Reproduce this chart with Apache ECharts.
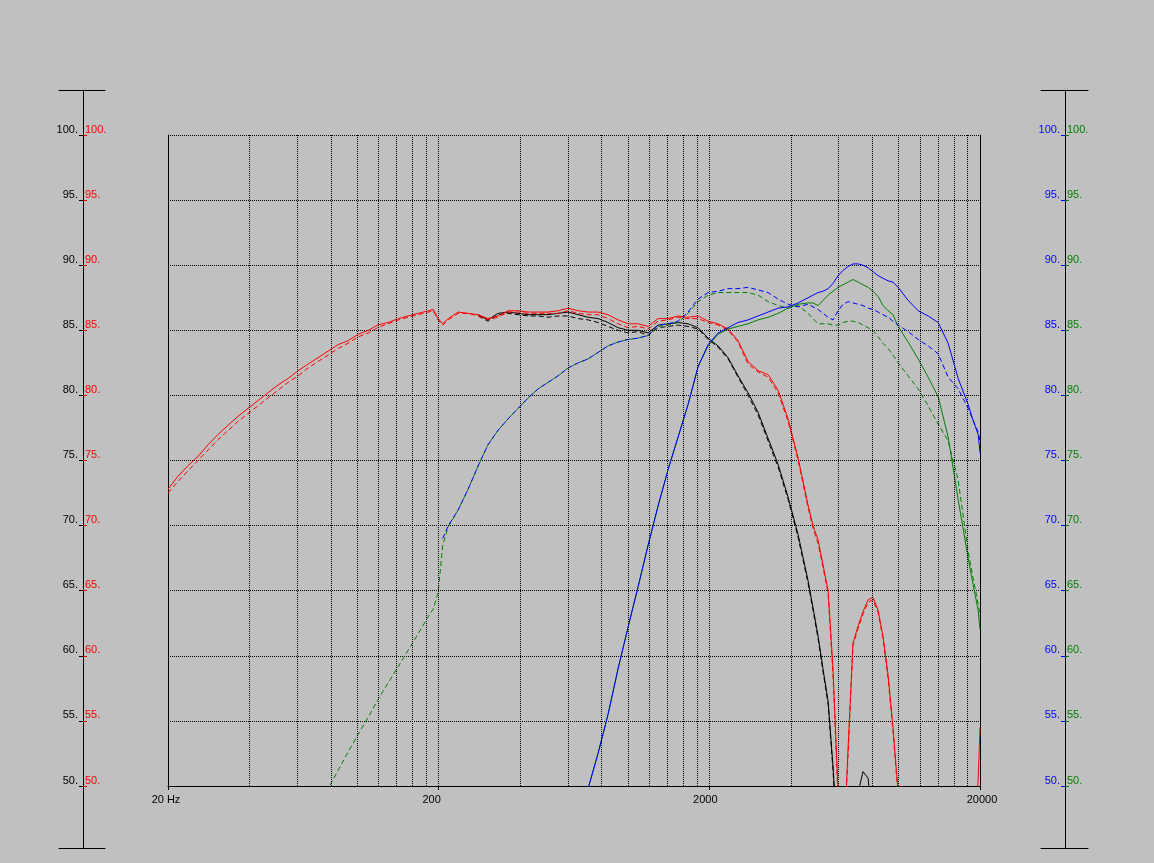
<!DOCTYPE html>
<html><head><meta charset="utf-8">
<script src="https://cdn.jsdelivr.net/npm/echarts@6/dist/echarts.min.js"></script>
<style>html,body{margin:0;padding:0;background:#c0c0c0;}#c{width:1154px;height:863px;}</style>
</head><body><div id="c"></div>
<script>
// ---- axis / tick values ----
const xTickValues = [20, 200, 2000, 20000];
const xTickLabels = ['20 Hz', '200', '2000', '20000'];
const xGridValues = [40,60,80,100,120,140,160,180,200,400,600,800,1000,1200,1400,1600,1800,2000,4000,6000,8000,10000,12000,14000,16000,18000];
const yTickValues = [50,55,60,65,70,75,80,85,90,95,100];
const Y_MIN = 50, Y_MAX = 100;

// ---- series data: [frequency Hz, dB] ----
const redSolid = [[20,72.8],[21.8,73.8],[23.7,74.6],[25.8,75.3],[28.1,76.2],[30.6,77.0],[33.3,77.7],[36.3,78.4],[39.5,79.0],[43.0,79.6],[46.8,80.2],[51.0,80.8],[55.5,81.3],[60.5,81.9],[65.8,82.4],[71.7,82.9],[78.1,83.4],[85.0,83.9],[92.5,84.2],[101,84.7],[110,85.0],[119,85.4],[130,85.6],[142,85.9],[154,86.1],[168,86.3],[183,86.5],[191,86.6],[199,85.9],[207,85.5],[217,85.9],[236,86.4],[257,86.3],[280,86.2],[304,85.9],[331,86.1],[361,86.5],[393,86.5],[428,86.4],[466,86.4],[507,86.4],[552,86.5],[601,86.7],[655,86.5],[713,86.4],[776,86.4],[845,86.2],[920,85.8],[1002,85.5],[1091,85.5],[1188,85.3],[1293,85.9],[1408,85.9],[1533,86.1],[1669,86.0],[1817,86.1],[1979,85.7],[2155,85.5],[2346,85.1],[2554,84.2],[2781,82.6],[3028,81.9],[3297,81.6],[3590,80.4],[3909,78.2],[4256,75.2],[4630,71.6],[4832,70.0],[5046,68.9],[5260,67.0],[5494,65.0],[5727,59.0],[5982,49.5],[6236,44.0],[6514,53.0],[6790,61.0],[7092,62.3],[7392,63.4],[7722,64.3],[8049,64.5],[8408,63.5],[8764,61.5],[9155,58.5],[9542,54.5],[9968,49.5],[10853,42],[11817,38],[12867,36],[14010,35],[15254,35],[16609,36],[18084,39],[18844,44],[19691,50.5],[20000,54.5]];
const redDashed = [[20,72.5],[21.8,73.4],[23.7,74.2],[25.8,75.0],[28.1,75.8],[30.6,76.6],[33.3,77.3],[36.3,78.0],[39.5,78.6],[43.0,79.2],[46.8,79.8],[51.0,80.4],[55.5,81.0],[60.5,81.5],[65.8,82.1],[71.7,82.6],[78.1,83.1],[85.0,83.6],[92.5,84.0],[101,84.5],[110,84.8],[119,85.2],[130,85.5],[142,85.8],[154,86.0],[168,86.2],[183,86.4],[191,86.5],[199,85.8],[207,85.4],[217,85.8],[236,86.3],[257,86.3],[280,86.1],[304,85.8],[331,86.0],[361,86.4],[393,86.4],[428,86.3],[466,86.3],[507,86.3],[552,86.3],[601,86.5],[655,86.3],[713,86.2],[776,86.2],[845,85.9],[920,85.5],[1002,85.2],[1091,85.3],[1188,85.1],[1293,85.7],[1408,85.8],[1533,86.0],[1669,85.9],[1817,85.9],[1979,85.6],[2155,85.4],[2346,85.0],[2554,84.1],[2781,82.4],[3028,81.8],[3297,81.4],[3590,80.2],[3909,78.0],[4256,75.0],[4630,71.4],[4832,69.8],[5046,68.6],[5260,66.8],[5494,64.8],[5727,58.5],[5982,49.0],[6236,44.0],[6514,52.5],[6790,60.8],[7092,62.1],[7392,63.2],[7722,64.1],[8049,64.3],[8408,63.3],[8764,61.3],[9155,58.2],[9542,54.2],[9968,49.2],[10853,42]];
const blackSolid = [[280,86.2],[304,85.8],[331,86.3],[361,86.4],[393,86.3],[428,86.2],[466,86.2],[507,86.2],[552,86.3],[601,86.4],[655,86.2],[713,86.0],[776,85.9],[845,85.6],[920,85.2],[1002,85.0],[1091,85.0],[1188,84.8],[1293,85.4],[1408,85.5],[1533,85.6],[1669,85.5],[1817,85.2],[1979,84.4],[2155,83.8],[2346,82.9],[2554,81.5],[2781,80.2],[3028,78.7],[3297,76.7],[3590,74.7],[3909,72.2],[4256,69.3],[4630,65.8],[4832,63.7],[5046,61.5],[5260,59.0],[5494,56.5],[5727,51.5],[5982,45],[6236,40],[6514,38],[6790,44],[7092,49.5],[7392,51.1],[7722,50.6],[8049,46],[8408,40]];
const blackDashed = [[280,86.1],[304,85.7],[331,86.2],[361,86.3],[393,86.2],[428,86.1],[466,86.1],[507,86.0],[552,86.1],[601,86.1],[655,85.9],[713,85.8],[776,85.6],[845,85.3],[920,85.0],[1002,84.8],[1091,84.9],[1188,84.6],[1293,85.2],[1408,85.3],[1533,85.4],[1669,85.3],[1817,85.1],[1979,84.3],[2155,83.7],[2346,82.8],[2554,81.4],[2781,80.0],[3028,78.5],[3297,76.5],[3590,74.5],[3909,72.0],[4256,69.1],[4630,65.6],[4832,63.5],[5046,61.3],[5260,58.8],[5494,56.3],[5727,51.2],[5982,44.5],[6236,40]];
const blueSolid = [[713,49.8],[776,52.5],[845,55.5],[920,59.0],[1002,62.2],[1091,65.3],[1188,68.5],[1293,71.5],[1408,74.3],[1533,76.8],[1669,79.3],[1817,82.2],[1979,83.9],[2155,84.8],[2346,85.2],[2554,85.6],[2781,85.8],[3028,86.1],[3297,86.4],[3590,86.7],[3909,86.8],[4256,87.1],[4630,87.5],[4832,87.7],[5046,87.9],[5260,88.0],[5494,88.2],[5727,88.6],[5982,89.2],[6236,89.6],[6514,89.9],[6790,90.1],[7092,90.1],[7392,90.0],[7722,89.8],[8049,89.5],[8408,89.2],[8764,89.0],[9155,88.8],[9542,88.7],[9968,88.3],[10853,87.3],[11817,86.5],[12867,86.1],[14010,85.6],[15254,84.0],[16609,81.3],[18084,79.3],[18844,78.1],[19691,77.0],[20000,75.6]];
const greenSolid = [[713,49.8],[776,52.5],[845,55.5],[920,59.0],[1002,62.2],[1091,65.3],[1188,68.5],[1293,71.5],[1408,74.3],[1533,76.8],[1669,79.3],[1817,82.2],[1979,83.8],[2155,84.7],[2346,85.1],[2554,85.3],[2781,85.5],[3028,85.8],[3297,86.0],[3590,86.3],[3909,86.7],[4256,87.0],[4630,87.1],[4832,87.1],[5046,86.9],[5260,87.3],[5494,87.7],[5727,88.0],[5982,88.3],[6236,88.5],[6514,88.7],[6790,88.9],[7092,88.7],[7392,88.5],[7722,88.3],[8049,88.0],[8408,87.6],[8764,86.9],[9155,86.5],[9542,86.2],[9968,85.3],[10853,84.1],[11817,82.8],[12867,81.4],[14010,79.9],[15254,76.8],[16609,72.0],[18084,67.5],[18844,65.5],[19691,63.5],[20000,62.0]];
const blueDashed = [[207,69.0],[217,70.0],[236,71.2],[257,72.8],[280,74.6],[304,76.2],[331,77.3],[361,78.2],[393,79.0],[428,79.8],[466,80.5],[507,81.0],[552,81.5],[601,82.1],[655,82.5],[713,82.8],[776,83.3],[845,83.8],[920,84.1],[1002,84.3],[1091,84.4],[1188,84.6],[1293,85.4],[1408,85.5],[1533,85.7],[1669,86.4],[1817,87.4],[1979,87.9],[2155,88.0],[2346,88.2],[2554,88.2],[2781,88.3],[3028,88.1],[3297,87.9],[3590,87.4],[3909,87.0],[4256,86.8],[4630,87.0],[4832,86.8],[5046,86.6],[5260,86.3],[5494,86.0],[5727,85.8],[5982,86.5],[6236,87.0],[6514,87.2],[6790,87.1],[7092,87.0],[7392,86.9],[7722,86.7],[8049,86.6],[8408,86.4],[8764,86.2],[9155,86.0],[9542,85.7],[9968,85.4],[10853,84.9],[11817,84.3],[12867,83.8],[14010,83.2],[15254,81.4],[16609,80.5],[18084,79.0],[18844,78.1],[19691,77.2],[20000,76.5]];
const greenDashed = [[78.1,49.8],[85.0,51.2],[92.5,52.6],[101,54.0],[110,55.3],[119,56.6],[130,57.9],[142,59.2],[154,60.4],[168,61.7],[183,63.0],[191,63.6],[199,64.8],[207,68.5],[217,69.9],[236,71.2],[257,72.8],[280,74.6],[304,76.2],[331,77.3],[361,78.2],[393,79.0],[428,79.8],[466,80.5],[507,81.0],[552,81.5],[601,82.1],[655,82.5],[713,82.8],[776,83.3],[845,83.8],[920,84.1],[1002,84.3],[1091,84.4],[1188,84.6],[1293,85.3],[1408,85.4],[1533,85.6],[1669,86.3],[1817,87.2],[1979,87.7],[2155,87.9],[2346,87.9],[2554,87.9],[2781,87.9],[3028,87.7],[3297,87.2],[3590,86.9],[3909,86.7],[4256,86.9],[4630,86.3],[4832,85.9],[5046,85.5],[5260,85.5],[5494,85.5],[5727,85.4],[5982,85.4],[6236,85.6],[6514,85.7],[6790,85.7],[7092,85.6],[7392,85.4],[7722,85.2],[8049,85.0],[8408,84.5],[8764,84.0],[9155,83.6],[9542,83.1],[9968,82.5],[10853,81.5],[11817,80.5],[12867,79.2],[14010,77.8],[15254,76.5],[16609,73.5],[18084,68.0],[18844,66.0],[19691,64.0],[20000,63.0]];

// ---- layout ----
const FONT = 'Liberation Sans';
const plot = {left: 168, top: 135, width: 812, height: 651};
const scaleTop = 90, scaleBottom = 848;
const pxPerDb = plot.height / (Y_MAX - Y_MIN);
const extMax = Y_MAX + (plot.top - scaleTop) / pxPerDb;
const extMin = Y_MIN - (scaleBottom - (plot.top + plot.height)) / pxPerDb;
const BLACK = '#000000', RED = '#ff0000', BLUE = '#0000ff', GREEN = '#008000';
const DASH = [5, 3];
// horizontal nudges of the x tick labels (px, + = right)
const xLabelShift = [-2, -7, -4, 2];

function capAxis(gridIndex, pos) {
  return {gridIndex, type: 'value', min: 0, max: 1, position: pos,
    axisLine: {show: true, onZero: false, lineStyle: {color: BLACK, width: 1}},
    axisTick: {show: false}, axisLabel: {show: false}, splitLine: {show: false}};
}
function scaleAxis(gridIndex, inside, color, showLine) {
  return {gridIndex, type: 'value', position: 'left', offset: -24, min: extMin, max: extMax,
    axisLine: {show: showLine, onZero: false, lineStyle: {color: BLACK, width: 1}},
    axisTick: {show: true, inside, length: 4, customValues: yTickValues, lineStyle: {color, width: 1}},
    axisLabel: {show: true, inside, customValues: yTickValues, color, fontFamily: FONT, fontSize: 11,
      margin: inside ? 2 : 5, verticalAlign: 'bottom', lineHeight: 11, formatter: v => v + '.'},
    splitLine: {show: false}};
}
function line(data, color, dashed, dashOffset) {
  return {type: 'line', xAxisIndex: 0, yAxisIndex: 0, data, showSymbol: false, symbol: 'none',
    clip: true, smooth: false, silent: true,
    lineStyle: {color, width: 1, type: dashed ? DASH : 'solid', dashOffset: dashOffset || 0}, z: 3};
}
const xRich = {};
xTickValues.forEach((v, i) => {
  const s = xLabelShift[i];
  xRich['t' + i] = {fontFamily: FONT, fontSize: 11, color: BLACK,
    padding: s < 0 ? [0, -2 * s, 0, 0] : [0, 0, 0, 2 * s]};
});

const chart = echarts.init(document.getElementById('c'), null, {renderer: 'canvas'});
chart.setOption({
  backgroundColor: '#c0c0c0',
  animation: false,
  grid: [
    {left: plot.left, top: plot.top, width: plot.width, height: plot.height},
    {left: 59, top: scaleTop, width: 46, height: scaleBottom - scaleTop},
    {left: 1041, top: scaleTop, width: 47, height: scaleBottom - scaleTop}
  ],
  xAxis: [
    {gridIndex: 0, type: 'log', logBase: 10, min: 20, max: 20000,
      axisLine: {show: true, onZero: false, lineStyle: {color: BLACK, width: 1}},
      axisTick: {show: true, length: 4, customValues: xTickValues, lineStyle: {color: BLACK}},
      axisLabel: {show: true, customValues: xTickValues, color: BLACK, fontFamily: FONT, fontSize: 11, margin: 8,
        rich: xRich,
        formatter: v => {
          const i = xTickValues.indexOf(Math.round(v));
          return i < 0 ? String(v) : '{t' + i + '|' + xTickLabels[i] + '}';
        }},
      splitLine: {show: false}, minorTick: {show: false}},
    capAxis(1, 'bottom'), capAxis(1, 'top'), capAxis(2, 'bottom'), capAxis(2, 'top')
  ],
  yAxis: [
    {gridIndex: 0, type: 'value', min: Y_MIN, max: Y_MAX, interval: 5, position: 'left',
      axisLine: {show: true, lineStyle: {color: BLACK, width: 1}}, axisTick: {show: false}, axisLabel: {show: false},
      splitLine: {show: true, lineStyle: {color: BLACK, width: 1, type: [1, 1]}}},
    {gridIndex: 0, type: 'value', min: Y_MIN, max: Y_MAX, position: 'right',
      axisLine: {show: true, lineStyle: {color: BLACK, width: 1}}, axisTick: {show: false}, axisLabel: {show: false},
      splitLine: {show: false}},
    scaleAxis(1, false, BLACK, true),
    scaleAxis(1, true, RED, false),
    scaleAxis(2, false, BLUE, true),
    scaleAxis(2, true, GREEN, false)
  ],
  series: [
    {type: 'line', xAxisIndex: 0, yAxisIndex: 0, data: [], z: 1, silent: true,
      markLine: {silent: true, symbol: ['none', 'none'], label: {show: false}, animation: false,
        lineStyle: {color: BLACK, width: 1, type: [1, 1]},
        data: xGridValues.map(v => ({xAxis: v}))}},
    line(blackDashed, BLACK, true),
    line(blackSolid, BLACK, false),
    line(redDashed, RED, true),
    line(redSolid, RED, false),
    line(greenDashed, GREEN, true, 4),
    line(greenSolid, GREEN, false),
    line(blueDashed, BLUE, true),
    line(blueSolid, BLUE, false)
  ]
});
</script></body></html>
